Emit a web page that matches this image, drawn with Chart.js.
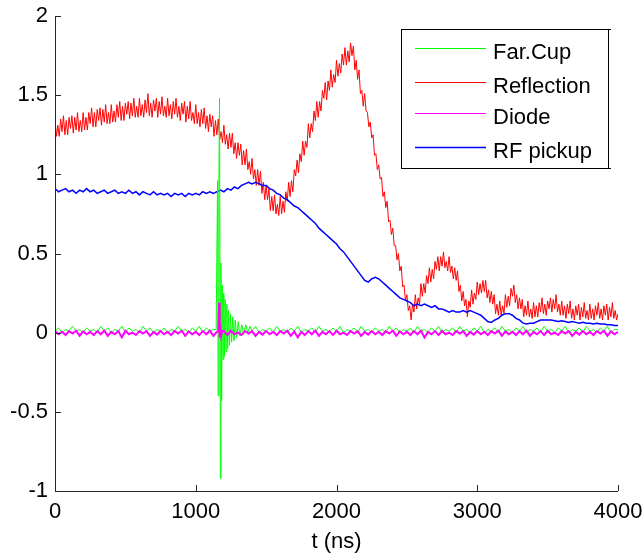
<!DOCTYPE html>
<html>
<head>
<meta charset="utf-8">
<script src="https://cdn.jsdelivr.net/npm/chart.js@4.4.1/dist/chart.umd.min.js"></script>
<style>
html, body { margin: 0; padding: 0; background: #fff; }
#wrap { position: relative; width: 644px; height: 556px; }
</style>
</head>
<body>
<div id="wrap"><canvas id="chart" width="644" height="556"></canvas></div>
<script>
// sample spacing (ns) of each trace
const REFLECTION_DT = 10;
const RF_DT = 25;
const FARCUP_DT = 25;
const DIODE_DT = 25;

const xTicks = [0, 1000, 2000, 3000, 4000];
const yTicks = [-1, -0.5, 0, 0.5, 1, 1.5, 2];

const seriesLabels = ["Far.Cup", "Reflection", "Diode", "RF pickup"];
const seriesColors = ["#00ff00", "#ff0000", "#ff00ff", "#0000ff"];

// Reflection, every 10 ns from 0 to 4000 (one row = 100 ns)
const reflection = [
  1.35, 1.24, 1.31, 1.24, 1.35, 1.27, 1.37, 1.25, 1.34, 1.25,
  1.36, 1.29, 1.37, 1.26, 1.36, 1.28, 1.39, 1.27, 1.34, 1.27,
  1.39, 1.28, 1.36, 1.28, 1.39, 1.32, 1.42, 1.30, 1.39, 1.30,
  1.41, 1.34, 1.42, 1.31, 1.41, 1.33, 1.44, 1.32, 1.39, 1.32,
  1.44, 1.33, 1.40, 1.33, 1.44, 1.36, 1.46, 1.34, 1.43, 1.34,
  1.45, 1.38, 1.46, 1.35, 1.45, 1.37, 1.48, 1.36, 1.43, 1.36,
  1.48, 1.37, 1.44, 1.36, 1.47, 1.39, 1.51, 1.37, 1.45, 1.36,
  1.47, 1.40, 1.48, 1.36, 1.46, 1.38, 1.49, 1.37, 1.43, 1.36,
  1.48, 1.37, 1.44, 1.35, 1.46, 1.38, 1.48, 1.36, 1.43, 1.34,
  1.45, 1.38, 1.46, 1.33, 1.43, 1.35, 1.46, 1.34, 1.39, 1.32,
  1.44, 1.32, 1.39, 1.30, 1.41, 1.32, 1.42, 1.29, 1.37, 1.27,
  1.38, 1.30, 1.37, 1.24, 1.34, 1.25, 1.35, 1.22, 1.27, 1.20,
  1.31, 1.19, 1.25, 1.16, 1.26, 1.17, 1.26, 1.13, 1.20, 1.10,
  1.20, 1.12, 1.19, 1.06, 1.15, 1.06, 1.16, 1.03, 1.08, 1.00,
  1.10, 0.97, 1.03, 0.93, 1.03, 0.93, 1.02, 0.88, 0.95, 0.84,
  0.93, 0.84, 0.91, 0.77, 0.86, 0.77, 0.87, 0.75, 0.81, 0.74,
  0.86, 0.75, 0.83, 0.76, 0.89, 0.83, 0.95, 0.86, 0.96, 0.89,
  1.03, 0.99, 1.09, 1.01, 1.13, 1.08, 1.21, 1.12, 1.21, 1.17,
  1.32, 1.23, 1.32, 1.27, 1.40, 1.34, 1.46, 1.36, 1.46, 1.40,
  1.53, 1.48, 1.58, 1.47, 1.59, 1.53, 1.66, 1.55, 1.63, 1.58,
  1.72, 1.62, 1.70, 1.64, 1.76, 1.69, 1.80, 1.69, 1.78, 1.71,
  1.83, 1.75, 1.81, 1.66, 1.72, 1.60, 1.66, 1.51, 1.53, 1.43,
  1.51, 1.40, 1.39, 1.30, 1.33, 1.23, 1.25, 1.12, 1.13, 1.03,
  1.06, 0.97, 0.98, 0.86, 0.89, 0.79, 0.83, 0.70, 0.71, 0.62,
  0.66, 0.55, 0.55, 0.46, 0.50, 0.39, 0.42, 0.29, 0.30, 0.20,
  0.24, 0.14, 0.17, 0.08, 0.18, 0.13, 0.24, 0.15, 0.22, 0.18,
  0.31, 0.23, 0.31, 0.25, 0.36, 0.31, 0.41, 0.32, 0.40, 0.34,
  0.45, 0.40, 0.48, 0.39, 0.48, 0.42, 0.51, 0.41, 0.45, 0.39,
  0.48, 0.38, 0.42, 0.34, 0.41, 0.33, 0.39, 0.26, 0.30, 0.20,
  0.26, 0.17, 0.21, 0.10, 0.20, 0.16, 0.27, 0.18, 0.25, 0.21,
  0.32, 0.24, 0.31, 0.25, 0.33, 0.26, 0.33, 0.22, 0.27, 0.19,
  0.26, 0.18, 0.24, 0.12, 0.18, 0.11, 0.20, 0.11, 0.17, 0.12,
  0.24, 0.16, 0.23, 0.17, 0.28, 0.23, 0.30, 0.19, 0.24, 0.15,
  0.22, 0.15, 0.21, 0.10, 0.17, 0.11, 0.20, 0.10, 0.15, 0.09,
  0.19, 0.10, 0.17, 0.10, 0.19, 0.13, 0.22, 0.12, 0.18, 0.11,
  0.20, 0.15, 0.22, 0.13, 0.21, 0.15, 0.24, 0.13, 0.18, 0.11,
  0.20, 0.11, 0.17, 0.09, 0.18, 0.12, 0.20, 0.09, 0.15, 0.08,
  0.17, 0.11, 0.18, 0.08, 0.16, 0.10, 0.19, 0.09, 0.14, 0.08,
  0.18, 0.09, 0.15, 0.08, 0.17, 0.11, 0.19, 0.09, 0.15, 0.08,
  0.17, 0.11, 0.18, 0.08, 0.16, 0.10, 0.19, 0.09, 0.14, 0.08,
  0.12
];

// RF pickup, every 25 ns
const rfPickup = [
  0.91, 0.89, 0.90, 0.91, 0.89, 0.90, 0.88, 0.90, 0.89, 0.91,
  0.89, 0.90, 0.88, 0.89, 0.90, 0.88, 0.89, 0.90, 0.88, 0.89,
  0.88, 0.90, 0.88, 0.89, 0.87, 0.89, 0.88, 0.87, 0.89, 0.87,
  0.88, 0.87, 0.88, 0.86, 0.88, 0.87, 0.88, 0.86, 0.88, 0.87,
  0.88, 0.87, 0.89, 0.88, 0.89, 0.88, 0.89, 0.90, 0.89, 0.91,
  0.90, 0.92, 0.91, 0.93, 0.94, 0.95, 0.94, 0.95, 0.94, 0.93,
  0.93, 0.91, 0.90, 0.88, 0.87, 0.85, 0.84, 0.82, 0.80, 0.79,
  0.77, 0.75, 0.73, 0.71, 0.69, 0.66, 0.64, 0.62, 0.60, 0.58,
  0.56, 0.53, 0.51, 0.48, 0.45, 0.42, 0.39, 0.36, 0.33, 0.32,
  0.34, 0.35, 0.34, 0.32, 0.30, 0.28, 0.26, 0.24, 0.22, 0.21,
  0.20, 0.19, 0.17, 0.18, 0.17, 0.18, 0.17, 0.16, 0.17, 0.15,
  0.15, 0.14, 0.13, 0.14, 0.13, 0.13, 0.14, 0.13, 0.14, 0.13,
  0.12, 0.11, 0.09, 0.07, 0.065, 0.08, 0.09, 0.11, 0.12, 0.12,
  0.11, 0.09, 0.08, 0.06, 0.055, 0.06, 0.06, 0.07, 0.08, 0.08,
  0.08, 0.08, 0.075, 0.07, 0.075, 0.07, 0.065, 0.07, 0.065, 0.06,
  0.065, 0.06, 0.06, 0.055, 0.06, 0.055, 0.055, 0.05, 0.05, 0.045,
  0.045
];

// Far.Cup baseline every 25 ns; the burst near 1170 ns is listed separately
const farCupBase = [
  0.01, 0.03, 0.00, 0.02, 0.01, 0.04, 0.01, 0.02, 0.00, 0.03,
  0.01, 0.02, 0.00, 0.04, 0.01, 0.03, 0.00, 0.02, 0.01, 0.04,
  0.00, 0.03, 0.01, 0.02, 0.00, 0.04, 0.01, 0.03, 0.00, 0.02,
  0.01, 0.03, 0.00, 0.02, 0.01, 0.04, 0.01, 0.02, 0.00, 0.03,
  0.01, 0.04, 0.00, 0.03, 0.01, 0.02, 0.00, 0.03, 0.01, 0.02,
  0.00, 0.03, 0.01, 0.02, 0.00, 0.03, 0.01, 0.04, 0.00, 0.02,
  0.01, 0.03, 0.00, 0.04, 0.01, 0.02, 0.00, 0.03, 0.01, 0.04,
  0.00, 0.02, 0.01, 0.03, 0.00, 0.04, 0.01, 0.02, 0.00, 0.03,
  0.01, 0.04, 0.00, 0.02, 0.01, 0.03, 0.00, 0.04, 0.01, 0.02,
  0.00, 0.03, 0.01, 0.02, 0.00, 0.04, 0.01, 0.03, 0.00, 0.02,
  0.01, 0.03, 0.00, 0.04, 0.01, 0.02, 0.00, 0.03, 0.01, 0.04,
  0.00, 0.02, 0.01, 0.03, 0.00, 0.04, 0.01, 0.02, 0.00, 0.03,
  0.01, 0.04, 0.00, 0.02, 0.01, 0.03, 0.00, 0.04, 0.01, 0.02,
  0.00, 0.03, 0.01, 0.04, 0.00, 0.02, 0.01, 0.03, 0.00, 0.04,
  0.01, 0.02, 0.00, 0.03, 0.01, 0.04, 0.00, 0.02, 0.01, 0.03,
  0.00, 0.04, 0.01, 0.02, 0.00, 0.03, 0.01, 0.04, 0.00, 0.02,
  0.02
];
const farCupBurstT = [
  1145, 1155, 1159, 1164, 1169, 1175, 1179, 1184, 1189, 1194,
  1199, 1204, 1209, 1215, 1221, 1227, 1233, 1240, 1247, 1255,
  1263, 1272, 1281, 1291, 1302, 1314, 1327, 1340, 1355, 1370,
  1385
];
const farCupBurstV = [
  0.02, 0.96, -0.40, 0.90, 1.48, -0.92, 0.44, -0.43, 0.30, -0.17,
  0.25, -0.15, 0.21, -0.12, 0.18, -0.10, 0.14, -0.08, 0.12, -0.06,
  0.10, -0.05, 0.08, -0.03, 0.07, -0.02, 0.05, -0.01, 0.05, 0.00,
  0.04
];

// Diode baseline every 25 ns, spike listed separately
const diodeBase = [
  0.010, -0.010, 0.005, -0.015, 0.010, -0.005, 0.012, -0.020, 0.008, -0.010,
  0.005, -0.015, 0.010, -0.010, 0.013, -0.020, 0.005, -0.010, 0.010, -0.030,
  0.012, -0.010, 0.000, -0.015, 0.010, -0.005, 0.010, -0.020, 0.005, -0.012,
  0.010, -0.010, 0.005, -0.015, 0.010, -0.005, 0.012, -0.020, 0.008, -0.010,
  0.005, -0.015, 0.010, -0.010, 0.013, -0.020, 0.005, -0.010, 0.010, -0.015,
  0.012, -0.010, 0.000, -0.015, 0.010, -0.005, 0.010, -0.020, 0.005, -0.012,
  0.010, -0.010, 0.005, -0.015, 0.010, -0.005, 0.012, -0.020, 0.008, -0.030,
  0.005, -0.015, 0.010, -0.010, 0.013, -0.020, 0.005, -0.010, 0.010, -0.015,
  0.012, -0.010, 0.000, -0.015, 0.010, -0.005, 0.010, -0.020, 0.005, -0.012,
  0.010, -0.010, 0.005, -0.015, 0.010, -0.005, 0.012, -0.020, 0.008, -0.010,
  0.005, -0.015, 0.010, -0.010, 0.013, -0.030, 0.005, -0.010, 0.010, -0.015,
  0.012, -0.010, 0.000, -0.015, 0.010, -0.005, 0.010, -0.020, 0.005, -0.012,
  0.010, -0.010, 0.005, -0.015, 0.010, -0.005, 0.012, -0.020, 0.008, -0.010,
  0.005, -0.015, 0.010, -0.010, 0.013, -0.020, 0.005, -0.010, 0.010, -0.015,
  0.012, -0.010, 0.000, -0.015, 0.010, -0.005, 0.010, -0.020, 0.005, -0.012,
  0.010, -0.010, 0.005, -0.015, 0.010, -0.005, 0.012, -0.020, 0.008, -0.010,
  0.005
];
const diodeSpikeT = [1160, 1166, 1170, 1174, 1180, 1188];
const diodeSpikeV = [0.01, 0.19, -0.03, 0.05, -0.02, 0.01];

const FONT = "'Liberation Sans', Arial, sans-serif";

function toPoints(dt, values) {
  return values.map((v, i) => ({ x: i * dt, y: v }));
}

function withBurst(base, burstT, burstV) {
  const lo = burstT[0];
  const hi = burstT[burstT.length - 1];
  return base
    .filter((p) => p.x < lo || p.x > hi)
    .concat(burstT.map((t, i) => ({ x: t, y: burstV[i] })))
    .sort((a, b) => a.x - b.x);
}

const seriesData = [
  withBurst(toPoints(FARCUP_DT, farCupBase), farCupBurstT, farCupBurstV),
  toPoints(REFLECTION_DT, reflection),
  withBurst(toPoints(DIODE_DT, diodeBase), diodeSpikeT, diodeSpikeV),
  toPoints(RF_DT, rfPickup),
];
// lower order is painted on top
const drawOrder = [2, 4, 1, 3];
const lineWidths = [1, 1, 2, 1.5];

// matlab style axes: left + bottom lines with inward ticks, plus the legend box
const axesPlugin = {
  id: "matlabAxes",
  afterDraw(chart) {
    const { ctx, chartArea, scales } = chart;
    ctx.save();
    ctx.strokeStyle = "#262626";
    ctx.lineWidth = 1;
    ctx.beginPath();
    ctx.moveTo(chartArea.left + 0.5, chartArea.top);
    ctx.lineTo(chartArea.left + 0.5, chartArea.bottom + 0.5);
    ctx.lineTo(chartArea.right, chartArea.bottom + 0.5);
    yTicks.forEach((v) => {
      const y = Math.round(scales.y.getPixelForValue(v)) + 0.5;
      ctx.moveTo(chartArea.left, y);
      ctx.lineTo(chartArea.left + 6, y);
    });
    xTicks.forEach((v) => {
      const x = Math.round(scales.x.getPixelForValue(v)) + 0.5;
      ctx.moveTo(x, chartArea.bottom);
      ctx.lineTo(x, chartArea.bottom - 6);
    });
    ctx.stroke();

    const bx = 401, by = 29, bw = 207, bh = 139;
    ctx.fillStyle = "#fff";
    ctx.fillRect(bx, by, bw, bh);
    ctx.strokeStyle = "#000";
    ctx.strokeRect(bx + 0.5, by + 0.5, bw, bh);
    ctx.beginPath();
    ctx.moveTo(bx + bw + 0.5, by + 0.5);
    ctx.lineTo(bx + bw + 3, by + 0.5);
    ctx.moveTo(bx + bw + 0.5, by + bh + 0.5);
    ctx.lineTo(bx + bw + 3, by + bh + 0.5);
    ctx.stroke();
    ctx.font = "22px " + FONT;
    ctx.textBaseline = "alphabetic";
    const rowY = [48, 82, 113, 147];
    seriesLabels.forEach((label, i) => {
      ctx.strokeStyle = seriesColors[i];
      ctx.lineWidth = i === 3 ? 1.5 : 1;
      ctx.beginPath();
      ctx.moveTo(415, rowY[i] + 0.5);
      ctx.lineTo(486, rowY[i] + 0.5);
      ctx.stroke();
      ctx.fillStyle = "#000";
      ctx.fillText(label, 493, rowY[i] + 11);
    });
    ctx.restore();
  },
};

new Chart(document.getElementById("chart"), {
  type: "line",
  data: {
    datasets: seriesLabels.map((label, i) => ({
      label,
      data: seriesData[i],
      borderColor: seriesColors[i],
      borderWidth: lineWidths[i],
      pointRadius: 0,
      tension: 0,
      fill: false,
      order: drawOrder[i],
    })),
  },
  options: {
    responsive: false,
    animation: false,
    devicePixelRatio: 1,
    parsing: false,
    normalized: true,
    layout: { padding: { left: 0, top: 16, right: 26, bottom: 0 } },
    plugins: { legend: { display: false }, tooltip: { enabled: false } },
    scales: {
      x: {
        type: "linear",
        min: 0,
        max: 4000,
        afterFit: (scale) => {
          scale.height = 65;
          scale.paddingLeft = 0;
          scale.paddingRight = 0;
        },
        afterBuildTicks: (scale) => { scale.ticks = xTicks.map((v) => ({ value: v })); },
        grid: { display: false, drawTicks: false },
        border: { display: false },
        ticks: {
          callback: (v) => String(v),
          color: "#000",
          font: { family: FONT, size: 22 },
          padding: 8,
          maxRotation: 0,
        },
        title: {
          display: true,
          text: "t (ns)",
          color: "#000",
          font: { family: FONT, size: 22 },
          padding: { top: 2, bottom: 1 },
        },
      },
      y: {
        min: -1,
        max: 2,
        afterFit: (scale) => {
          scale.width = 55;
          scale.paddingTop = 0;
          scale.paddingBottom = 0;
        },
        afterBuildTicks: (scale) => { scale.ticks = yTicks.map((v) => ({ value: v })); },
        grid: { display: false, drawTicks: false },
        border: { display: false },
        ticks: {
          callback: (v) => String(v),
          color: "#000",
          font: { family: FONT, size: 22 },
          padding: 7,
        },
      },
    },
  },
  plugins: [axesPlugin],
});
</script>
</body>
</html>
